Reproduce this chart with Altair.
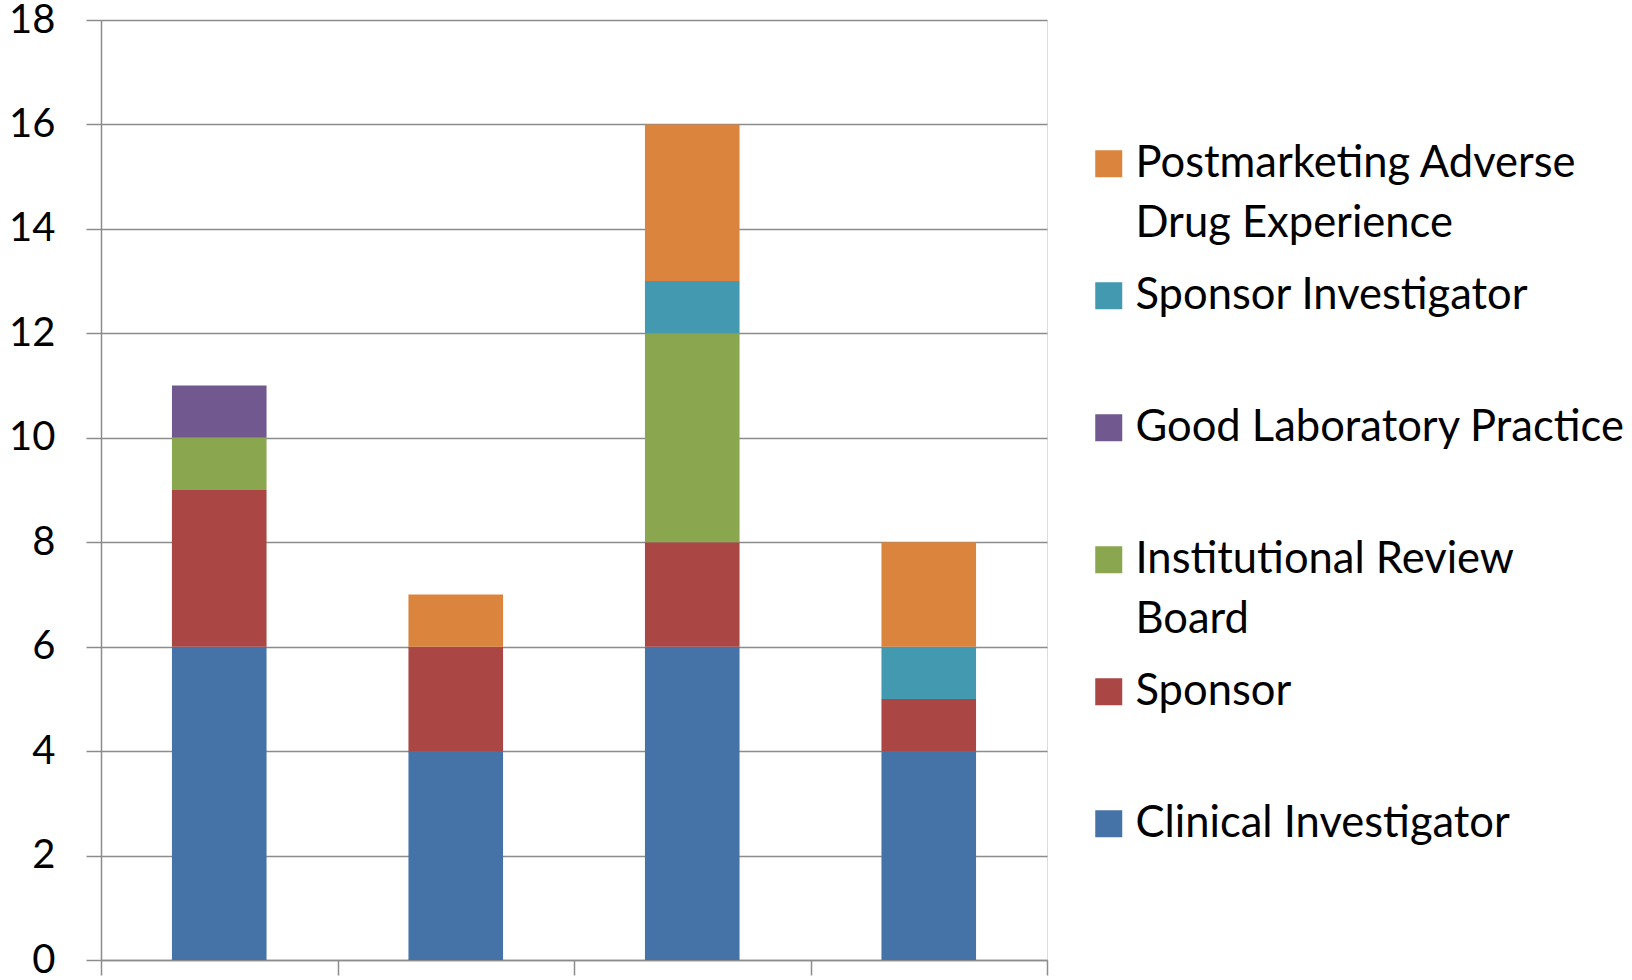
import altair as alt
import pandas as pd

groups = ["Group 1", "Group 2", "Group 3", "Group 4"]
series = [
    "Clinical Investigator",
    "Sponsor",
    "Institutional Review Board",
    "Good Laboratory Practice",
    "Sponsor Investigator",
    "Postmarketing Adverse Drug Experience",
]
clinical_investigator = [6, 4, 6, 4]
sponsor = [3, 2, 2, 1]
institutional_review_board = [1, 0, 4, 0]
good_laboratory_practice = [1, 0, 0, 0]
sponsor_investigator = [0, 0, 1, 1]
postmarketing = [0, 1, 3, 2]
colors = ["#4673A7", "#AA4644", "#8AA64F", "#71598F", "#4299B0", "#DB843D"]
y_ticks = [0, 2, 4, 6, 8, 10, 12, 14, 16, 18]

values_by_series = [
    clinical_investigator,
    sponsor,
    institutional_review_board,
    good_laboratory_practice,
    sponsor_investigator,
    postmarketing,
]

rows = []
for s_idx, (name, vals) in enumerate(zip(series, values_by_series)):
    for g, v in zip(groups, vals):
        rows.append({"group": g, "series": name, "count": v, "stack_idx": s_idx})
df = pd.DataFrame(rows)

grey = "#8C8C8C"
font = "Lato"

label_expr = (
    "datum.label == 'Postmarketing Adverse Drug Experience' ? ['Postmarketing Adverse', 'Drug Experience'] : "
    "datum.label == 'Institutional Review Board' ? ['Institutional Review', 'Board'] : datum.label"
)

chart = (
    alt.Chart(df)
    .mark_bar(width=alt.RelativeBandSize(0.4))
    .encode(
        x=alt.X(
            "group:N",
            sort=groups,
            scale=alt.Scale(paddingInner=0, paddingOuter=0),
            axis=alt.Axis(
                title=None,
                labels=False,
                tickBand="extent",
                tickSize=15,
                tickColor=grey,
                tickWidth=1.5,
                domainColor=grey,
                domainWidth=1.5,
                grid=False,
            ),
        ),
        y=alt.Y(
            "count:Q",
            stack="zero",
            scale=alt.Scale(domain=[0, 18], nice=False),
            axis=alt.Axis(
                title=None,
                values=y_ticks,
                tickSize=15,
                tickColor=grey,
                tickWidth=1.5,
                domainColor=grey,
                domainWidth=1.5,
                grid=True,
                gridColor=grey,
                gridWidth=1.5,
                gridOpacity=1,
                labelPadding=31,
                labelFont=font,
                labelFontSize=40,
                labelColor="black",
            ),
        ),
        color=alt.Color(
            "series:N",
            scale=alt.Scale(domain=series[::-1], range=colors[::-1]),
            legend=alt.Legend(
                title=None,
                orient="none",
                legendX=986,
                legendY=122,
                padding=0,
                symbolType="square",
                symbolSize=729,
                symbolStrokeWidth=0,
                symbolOpacity=1,
                labelFont=font,
                labelFontSize=43.5,
                labelColor="black",
                labelOffset=5,
                labelLimit=700,
                gridAlign="all",
                rowPadding=27,
                labelExpr=label_expr,
            ),
        ),
        order=alt.Order("stack_idx:Q", sort="ascending"),
    )
    .properties(
        width=946,
        height=940,
        autosize=alt.AutoSizeParams(type="none"),
        padding={"left": 101, "top": 20, "right": 585, "bottom": 20},
        background="white",
    )
    .configure_view(stroke=None)
    .configure(style={"guide-label": {"lineHeight": 60}})
)

chart.save("out.html", embed_options={"renderer": "svg", "actions": False})
